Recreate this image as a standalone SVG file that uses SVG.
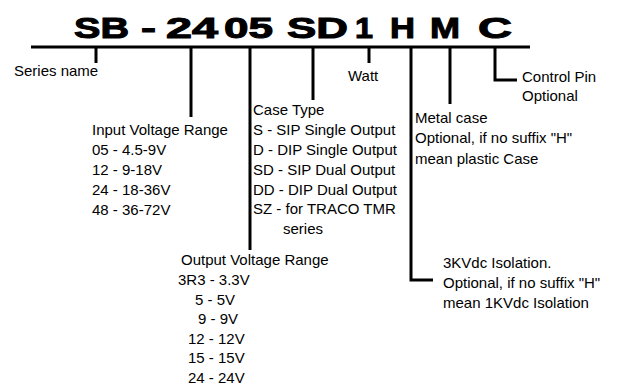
<svg xmlns="http://www.w3.org/2000/svg" width="626" height="390" viewBox="0 0 626 390">
<style>
.t{font-family:"Liberation Sans",Arial,sans-serif;font-size:15px;fill:#000}
.h{font-family:"Liberation Sans",Arial,sans-serif;font-size:29px;font-weight:bold;fill:#000;stroke:#000;stroke-width:1}
.c{stroke:#000;stroke-width:3;fill:none}
</style>
<rect width="626" height="390" fill="#fff"/>
<g id="title">
<text class="h" x="74" y="38" textLength="55" lengthAdjust="spacingAndGlyphs">SB</text>
<text class="h" x="141" y="38" textLength="15" lengthAdjust="spacingAndGlyphs">-</text>
<text class="h" x="166" y="38" textLength="52" lengthAdjust="spacingAndGlyphs">24</text>
<text class="h" x="224" y="38" textLength="49" lengthAdjust="spacingAndGlyphs">05</text>
<text class="h" x="287" y="38" textLength="61" lengthAdjust="spacingAndGlyphs">SD</text>
<text class="h" x="355" y="38" textLength="18" lengthAdjust="spacingAndGlyphs">1</text>
<text class="h" x="390" y="38" textLength="25" lengthAdjust="spacingAndGlyphs">H</text>
<text class="h" x="430" y="38" textLength="30" lengthAdjust="spacingAndGlyphs">M</text>
<text class="h" x="478" y="38" textLength="34" lengthAdjust="spacingAndGlyphs">C</text>
</g>
<g id="connectors">
<line class="c" x1="31" y1="47" x2="530" y2="47"/>
<line class="c" x1="96" y1="47" x2="96" y2="63"/>
<line class="c" x1="191" y1="47" x2="191" y2="117"/>
<line class="c" x1="250" y1="47" x2="250" y2="250"/>
<line class="c" x1="313" y1="47" x2="313" y2="100"/>
<line class="c" x1="369" y1="47" x2="369" y2="63"/>
<polyline class="c" points="411,47 411,280 433,280"/>
<line class="c" x1="450" y1="47" x2="450" y2="104"/>
<polyline class="c" points="495,47 495,80 517,80"/>
</g>
<g id="series-name"><text class="t" x="14" y="76">Series name</text></g>
<g id="input-voltage">
<text class="t" x="92" y="135">Input Voltage Range</text>
<text class="t" x="92" y="155">05 - 4.5-9V</text>
<text class="t" x="92" y="175">12 - 9-18V</text>
<text class="t" x="92" y="195">24 - 18-36V</text>
<text class="t" x="92" y="215">48 - 36-72V</text>
</g>
<g id="case-type">
<text class="t" x="253" y="115">Case Type</text>
<text class="t" x="253" y="135">S - SIP Single Output</text>
<text class="t" x="253" y="155">D - DIP Single Output</text>
<text class="t" x="253" y="175">SD - SIP Dual Output</text>
<text class="t" x="253" y="195">DD - DIP Dual Output</text>
<text class="t" x="253" y="214">SZ - for TRACO TMR</text>
<text class="t" x="283" y="234">series</text>
</g>
<g id="output-voltage">
<text class="t" x="181" y="265">Output Voltage Range</text>
<text class="t" x="178" y="285">3R3 - 3.3V</text>
<text class="t" x="195" y="305">5 - 5V</text>
<text class="t" x="198" y="324">9 - 9V</text>
<text class="t" x="188" y="344">12 - 12V</text>
<text class="t" x="188" y="363">15 - 15V</text>
<text class="t" x="188" y="383">24 - 24V</text>
</g>
<g id="watt"><text class="t" x="348" y="81">Watt</text></g>
<g id="isolation">
<text class="t" x="443" y="268">3KVdc Isolation.</text>
<text class="t" x="443" y="288">Optional, if no suffix "H"</text>
<text class="t" x="443" y="308">mean 1KVdc Isolation</text>
</g>
<g id="metal-case">
<text class="t" x="415" y="123">Metal case</text>
<text class="t" x="415" y="143">Optional, if no suffix "H"</text>
<text class="t" x="415" y="164">mean plastic Case</text>
</g>
<g id="control-pin">
<text class="t" x="522" y="82">Control Pin</text>
<text class="t" x="522" y="101">Optional</text>
</g>
</svg>
